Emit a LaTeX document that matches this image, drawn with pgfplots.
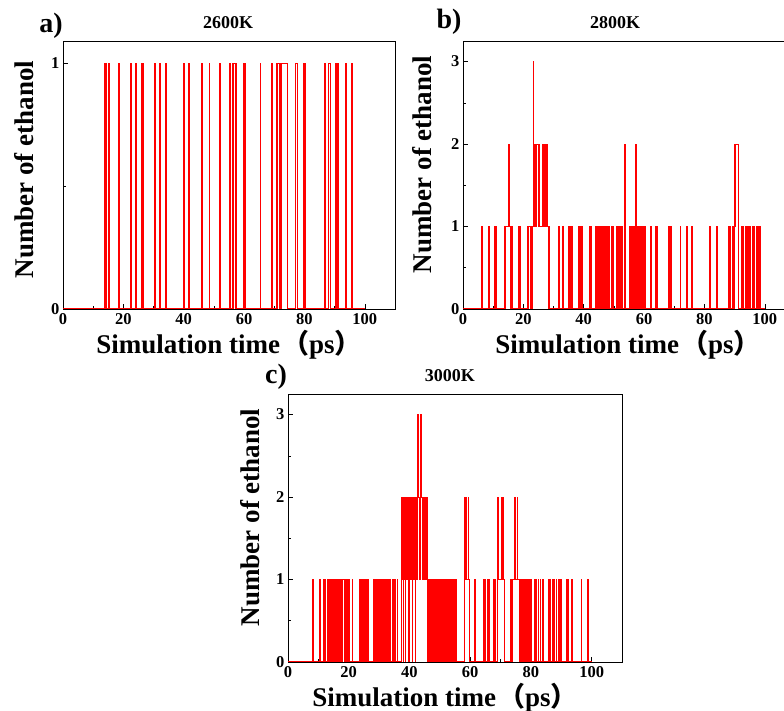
\documentclass[border=0pt]{standalone}
\usepackage{fontspec}
\setmainfont{Liberation Serif}
\newfontfamily\cjk{Noto Sans CJK SC}
\usepackage{pgfplots}
\pgfplotsset{compat=1.18}

\pgfplotsset{
  panel/.style={
    scale only axis, anchor=south west,
    width=332pt, height=268pt,
    xmin=0, xmax=110,
    xtick={0,20,40,60,80,100}, xticklabels={0,20,40,60,80,100},
    minor xtick={10,30,...,90},
    xtick pos=bottom, ytick pos=left, tick align=inside,
    major tick length=5pt, minor tick length=3pt,
    axis line style={line width=0.8pt},
    every tick/.style={black, line width=0.6pt},
    xticklabel style={font=\bfseries\fontsize{16.5}{16.5}\selectfont, yshift=-1pt},
    yticklabel style={font=\bfseries\fontsize{16.5}{16.5}\selectfont},
    label style={font=\bfseries\fontsize{27}{27}\selectfont},
    title style={font=\bfseries\fontsize{18}{18}\selectfont, anchor=center},
    xlabel={Simulation time\hspace{0.08em}{\cjk （}ps{\cjk ）}},
    ylabel={Number of ethanol},
  },
  spk/.style={red, line width=1pt, const plot, no markers},
}

\begin{document}
\begin{tikzpicture}
\path[use as bounding box] (0pt,0pt) rectangle (784pt,711pt);

% a) 2600K
\begin{axis}[panel, at={(63pt,402pt)},
  ymin=0, ymax=1.09, ytick={0,1}, yticklabels={0,1}, minor ytick={0.5},
  title={2600K}, title style={at={(axis description cs:0.497,1.045)}},
  xlabel style={at={(axis description cs:0.5,-0.134)}, anchor=center},
  ylabel style={at={(axis description cs:-0.117,0.52)}, anchor=center}]
\addplot[spk] coordinates {
(0,0)(13.8,1)(14.0,0)(14.05,1)(14.25,0)(15.0,1)(15.3,0)(18.5,1)(18.8,0)
(22.3,1)(22.5,0)(22.55,1)(22.75,0)(23.9,1)(24.2,0)(26.0,1)(26.25,0)(26.3,1)(26.6,0)
(30.2,1)(30.5,0)(31.9,1)(32.2,0)(34.1,1)(34.4,0)
(39.9,1)(40.1,0)(40.15,1)(40.4,0)(41.6,1)(41.9,0)(45.8,1)(46.1,0)
(48.4,1)(48.7,0)(51.8,1)(52.1,0)(55.0,1)(55.25,0)(55.3,1)(55.5,0)
(56.0,1)(56.45,0)(56.6,1)(57.05,0)(57.3,1)(57.6,0)
(59.9,1)(60.1,0)(60.15,1)(60.4,0)(65.3,1)(65.6,0)(69.1,1)(69.55,0)
(70.6,1)(71.0,0)(71.05,1)(71.85,0)(71.9,1)(72.35,0)(72.4,1)(74.4,0)
(77.1,1)(77.6,0)(79.8,1)(80.0,0)(80.1,1)(80.4,0)
(86.7,1)(87.05,0)(88.1,1)(88.5,0)(90.3,1)(90.6,0)(90.9,1)(91.25,0)
(93.6,1)(93.9,0)(95.6,1)(95.9,0)(100,0)
};
\end{axis}

% b) 2800K
\begin{axis}[panel, at={(463pt,402pt)},
  ymin=0, ymax=3.25, ytick={0,1,2,3}, yticklabels={0,1,2,3}, minor ytick={0.5,1.5,2.5},
  title={2800K}, title style={at={(axis description cs:0.458,1.045)}},
  xlabel style={at={(axis description cs:0.497,-0.134)}, anchor=center},
  ylabel style={at={(axis description cs:-0.123,0.54)}, anchor=center}]
\addplot[spk] coordinates {
(0,0)(6.2,1)(6.5,0)(8.6,1)(8.9,0)(10.6,1)(10.8,0)(10.85,1)(11.05,0)
(13.7,1)(14.0,0)(14.1,1)(15.0,2)(15.3,1)(15.9,0)(16.0,1)(16.4,0)
(18.4,1)(18.6,0)(18.8,1)(19.05,0)
(21.4,1)(21.6,0)(21.8,1)(22.2,0)(22.8,1)(23.0,0)(23.1,1)(23.2,3)(23.35,1)
(23.5,2)(23.8,1)(23.9,2)(24.3,1)(24.5,2)(25.1,1)(25.2,2)(25.5,1)
(26.2,2)(26.35,1)(26.45,2)(26.6,1)(26.7,2)(26.85,1)(26.95,2)(27.1,1)
(27.2,2)(27.35,1)(27.45,2)(27.6,1)(27.7,2)(27.9,1)(28.2,0)(28.3,1)(28.45,0)(28.5,1)(28.75,0)
(31.7,1)(32.0,0)(32.9,1)(33.05,0)(33.1,1)(33.25,0)
(34.9,1)(35.1,0)(35.2,1)(35.5,0)(35.6,1)(35.9,0)(36.0,1)(36.3,0)
(38.2,1)(38.4,0)(38.5,1)(38.8,0)(38.9,1)(39.2,0)(39.3,1)(39.6,0)
(41.8,1)(42.0,0)(42.3,1)(42.6,0)
(44.0,1)(44.2,0)(44.3,1)(44.5,0)(44.6,1)(44.8,0)(45.0,1)(45.3,0)(45.4,1)(45.6,0)
(45.7,1)(45.9,0)(46.0,1)(46.2,0)(46.3,1)(46.5,0)(46.6,1)(46.8,0)(46.9,1)(47.1,0)
(47.2,1)(47.4,0)(47.5,1)(47.7,0)(47.8,1)(48.0,0)(48.1,1)(48.5,0)
(49.3,1)(49.5,0)(49.6,1)(49.8,0)
(50.7,1)(50.9,0)(51.0,1)(51.2,0)(51.3,1)(51.5,0)(51.6,1)(51.8,0)(51.9,1)(52.1,0)
(52.2,1)(52.5,0)(52.6,1)(52.9,0)(53.4,2)(53.7,0)
(55.3,1)(55.45,0)(55.55,1)(55.7,0)(55.8,1)(55.95,0)(56.05,1)(56.2,0)(56.3,1)(56.45,0)
(56.55,1)(56.7,0)(56.8,1)(56.95,0)(57.05,1)(57.15,2)(57.4,1)(57.5,0)(57.6,1)(57.7,0)
(57.8,1)(57.95,0)(58.05,1)(58.2,0)(58.3,1)(58.45,0)(58.55,1)(58.7,0)(58.8,1)(58.95,0)
(59.05,1)(59.2,0)(59.3,1)(59.45,0)(59.55,1)(59.7,0)(59.8,1)(59.95,0)(60.05,1)(60.3,0)
(62.1,1)(62.4,0)(63.7,1)(63.95,0)(64.2,1)(64.45,0)
(68.2,1)(68.4,0)(68.8,1)(69.1,0)(71.9,1)(72.2,0)(74.1,1)(74.4,0)(75.7,1)(76.0,0)
(81.7,1)(82.0,0)(84.0,1)(84.3,0)
(87.9,1)(88.1,0)(88.4,1)(88.7,0)(89.2,1)(89.4,0)(89.5,1)(89.8,0)(89.9,1)
(90.1,2)(90.3,1)(90.4,2)(91.2,1)(91.4,0)
(92.3,1)(92.5,0)(92.7,1)(92.9,0)(93.6,1)(93.9,0)(94.3,1)(94.5,0)(94.9,1)(95.1,0)
(95.8,1)(96.0,0)(96.2,1)(96.45,0)
(97.2,1)(97.4,0)(97.5,1)(97.8,0)(97.9,1)(98.2,0)(98.3,1)(98.6,0)(100,0)
};
\end{axis}

% c) 3000K
\begin{axis}[panel, at={(288pt,49pt)}, width=334pt,
  ymin=0, ymax=3.25, ytick={0,1,2,3}, yticklabels={0,1,2,3}, minor ytick={0.5,1.5,2.5},
  title={3000K}, title style={at={(axis description cs:0.485,1.045)}},
  xlabel style={at={(axis description cs:0.47,-0.134)}, anchor=center},
  ylabel style={at={(axis description cs:-0.114,0.54)}, anchor=center}]
\addplot[spk] coordinates {
(0,0)(8.1,1)(8.4,0)(10.5,1)(10.8,0)(11.8,1)(12.0,0)(12.1,1)(12.35,0)
(12.9,1)(13.3,0)(13.4,1)(13.8,0)(13.9,1)(14.3,0)(14.4,1)(14.8,0)(14.9,1)
(15.3,0)(15.4,1)(15.8,0)(16.0,1)(16.4,0)(16.5,1)(16.9,0)(17.0,1)(17.4,0)
(17.6,1)(18.0,0)(18.1,1)(18.5,0)(18.6,1)(19.0,0)(19.3,1)(19.6,0)(19.8,1)(20.4,0)
(21.1,1)(21.4,0)
(23.6,1)(23.8,0)(24.1,1)(24.3,0)(24.6,1)(24.8,0)(25.1,1)(25.3,0)(25.6,1)(25.8,0)(26.1,1)(26.35,0)
(28.3,1)(28.5,0)(28.8,1)(29.0,0)(29.3,1)(29.5,0)(29.6,1)(29.75,0)(29.85,1)(30.0,0)
(30.1,1)(30.25,0)(30.35,1)(30.5,0)(30.6,1)(30.75,0)(30.85,1)(31.0,0)(31.1,1)(31.25,0)
(31.35,1)(31.5,0)(31.6,1)(31.75,0)(31.85,1)(32.0,0)(32.1,1)(32.25,0)(32.35,1)(32.5,0)
(32.6,1)(32.8,0)(33.1,1)(33.3,0)(33.7,1)(33.9,0)(34.4,1)(34.65,0)(35.2,1)(35.4,0)(35.9,1)(36.1,0)
(37.4,2)(37.6,1)(37.7,2)(37.9,0)(38.0,2)(38.3,1)(38.4,2)(38.6,0)(38.7,2)(39.0,1)
(39.1,2)(39.4,1)(39.5,2)(39.8,0)(39.9,2)(40.2,1)(40.3,2)(40.6,1)(40.7,2)(41.0,0)
(41.1,2)(41.3,1)(41.4,2)(41.7,1)(41.8,2)(42.0,0)(42.1,2)(42.4,1)(42.5,2)(42.8,3)
(43.05,2)(43.4,1)(43.5,2)(43.8,3)(44.05,2)(44.3,1)(44.4,2)(44.7,1)(44.8,2)(45.0,1)
(45.1,2)(45.4,1)(45.5,2)(45.9,1)
(46.1,0)(46.2,1)(46.35,0)(46.45,1)(46.6,0)(46.7,1)(46.85,0)(46.95,1)(47.1,0)(47.2,1)
(47.35,0)(47.45,1)(47.6,0)(47.7,1)(47.85,0)(47.95,1)(48.1,0)(48.2,1)(48.35,0)(48.5,1)
(48.7,0)(48.9,1)(49.1,0)(49.4,1)(49.6,0)(49.9,1)(50.1,0)(50.3,1)(50.5,0)(50.8,1)
(51.0,0)(51.3,1)(51.5,0)(51.7,1)(51.9,0)(52.2,1)(52.4,0)(52.6,1)(52.8,0)(53.1,1)
(53.3,0)(53.6,1)(53.8,0)(54.1,1)(54.3,0)(54.6,1)(54.8,0)(55.3,1)(55.55,0)
(58.0,1)(58.1,2)(58.3,1)(58.7,2)(58.9,1)(59.3,2)(59.5,1)(59.7,0)
(61.4,1)(61.7,0)(64.3,1)(64.5,0)(64.7,1)(64.9,0)
(65.6,1)(65.8,0)(66.0,1)(66.15,0)(66.3,1)(66.5,0)(67.7,1)(67.9,0)(68.1,1)(68.3,0)
(68.9,1)(69.1,2)(69.3,1)(70.2,2)(70.4,1)(70.8,2)(71.0,1)(71.3,0)
(73.3,1)(73.45,0)(73.7,1)(73.85,0)(74.0,1)(74.6,2)(74.8,1)(75.5,2)(75.7,1)(76.1,0)
(76.2,1)(76.35,0)(76.45,1)(76.6,0)(76.7,1)(76.85,0)(76.95,1)(77.1,0)(77.2,1)(77.35,0)
(77.45,1)(77.6,0)(77.7,1)(77.85,0)(77.95,1)(78.1,0)(78.2,1)(78.35,0)(78.45,1)(78.6,0)
(78.7,1)(78.85,0)(78.95,1)(79.1,0)(79.2,1)(79.35,0)(79.45,1)(79.6,0)(79.7,1)(80.1,0)
(81.2,1)(81.4,0)(81.8,1)(82.0,0)(82.4,1)(82.6,0)(83.0,1)(83.2,0)(83.7,1)(84.0,0)
(85.9,1)(86.1,0)(86.4,1)(86.6,0)(87.0,1)(87.2,0)(87.6,1)(87.8,0)(88.3,1)(88.5,0)
(89.2,1)(89.4,0)(89.9,1)(90.1,0)(91.7,1)(91.9,0)(92.1,1)(92.3,0)(93.4,1)(93.7,0)
(96.5,1)(96.8,0)(98.7,1)(99.0,0)(100,0)
};
\end{axis}

\node[font=\bfseries\fontsize{28}{28}\selectfont] at (51pt,685pt) {a)};
\node[font=\bfseries\fontsize{28}{28}\selectfont] at (449pt,689pt) {b)};
\node[font=\bfseries\fontsize{28}{28}\selectfont] at (276pt,334pt) {c)};
\end{tikzpicture}
\end{document}
